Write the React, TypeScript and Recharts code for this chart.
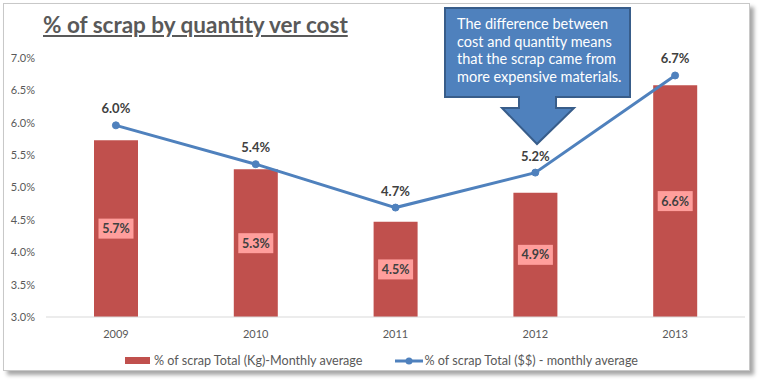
import { ComposedChart, Bar, Line, XAxis, YAxis, LabelList } from 'recharts';

const YEARS = ['2009', '2010', '2011', '2012', '2013'];
const KG_PCT = [5.73, 5.28, 4.47, 4.92, 6.58];
const COST_PCT = [5.96, 5.36, 4.69, 5.23, 6.73];
const Y_TICKS = [3, 3.5, 4, 4.5, 5, 5.5, 6, 6.5, 7];

const BAR_NAME = '% of scrap Total (Kg)-Monthly average';
const LINE_NAME = '% of scrap Total ($$) - monthly average';
const CALLOUT = [
  'The difference between',
  'cost and quantity means',
  'that the scrap came from',
  'more expensive materials.',
];

const FONT = 'Lato, "Open Sans", sans-serif';
const RED = '#C0504D';
const BLUE = '#4F81BD';
const TEXT = '#595959';

const chartData = YEARS.map((year, i) => ({ year, kg: KG_PCT[i], cost: COST_PCT[i] }));

const fmt = (v: number) => `${v.toFixed(1)}%`;

function BarTag(props: any) {
  const vb = props.viewBox || props;
  const x = vb.x ?? props.x;
  const y = vb.y ?? props.y;
  const w = vb.width ?? props.width;
  const h = vb.height ?? props.height;
  const cx = x + w / 2;
  const cy = y + h / 2;
  return (
    <g>
      <rect x={cx - 17.5} y={cy - 10} width={35} height={20} fill="#FF9E9C" />
      <text x={cx} y={cy + 4.5} textAnchor="middle" fontFamily={FONT} fontSize={12.5} fontWeight={700} fill="#404040">
        {fmt(props.value)}
      </text>
    </g>
  );
}

function LineTag(props: any) {
  const vb = props.viewBox || {};
  const x = props.x ?? vb.x;
  const y = props.y ?? vb.y;
  return (
    <text x={x} y={y - 12} textAnchor="middle" fontFamily={FONT} fontSize={13} fontWeight={700} fill="#404040">
      {fmt(props.value)}
    </text>
  );
}

function LegendBox() {
  return (
    <div style={{ display: 'flex', alignItems: 'center', fontFamily: FONT, fontSize: 12.6, color: TEXT }}>
      <div style={{ display: 'flex', alignItems: 'center', marginRight: 33 }}>
        <span style={{ display: 'inline-block', width: 25, height: 7, background: RED, marginRight: 4 }} />
        {BAR_NAME}
      </div>
      <div style={{ display: 'flex', alignItems: 'center' }}>
        <svg width={28} height={10} style={{ marginRight: 1 }}>
          <line x1={0} y1={5} x2={28} y2={5} stroke={BLUE} strokeWidth={3} />
          <circle cx={14} cy={5} r={3.5} fill={BLUE} />
        </svg>
        {LINE_NAME}
      </div>
    </div>
  );
}

export default function App() {
  return (
    <div style={{ position: 'absolute', left: 0, top: 0, width: 761, height: 383, background: '#fff', overflow: 'hidden' }}>
      <div
        style={{
          position: 'absolute',
          left: 3,
          top: 3,
          width: 745,
          height: 366,
          border: '1px solid #c8c8c8',
          boxShadow: '4px 4px 4px rgba(0,0,0,0.35)',
          background: '#fff',
        }}
      />
      <div
        style={{
          position: 'absolute',
          left: 43,
          top: 11,
          fontFamily: FONT,
          fontSize: 22.5,
          fontWeight: 700,
          color: TEXT,
          textDecoration: 'underline',
          whiteSpace: 'nowrap',
        }}
      >
        % of scrap by quantity ver cost
      </div>
      <div style={{ position: 'absolute', left: 0, top: 0 }}>
        <ComposedChart width={761} height={383} data={chartData} margin={{ top: 58, right: 16, bottom: 36, left: 0 }}>
          <XAxis
            dataKey="year"
            height={30}
            tick={{ fill: TEXT, fontSize: 11, fontFamily: FONT }}
            axisLine={{ stroke: '#D9D9D9' }}
            tickLine={false}
            tickMargin={7}
          />
          <YAxis
            type="number"
            domain={[3, 7]}
            ticks={Y_TICKS}
            width={46}
            axisLine={false}
            tickLine={false}
            tickMargin={5}
            tickFormatter={fmt}
            tick={{ fill: TEXT, fontSize: 11, fontFamily: FONT }}
          />
          <Bar dataKey="kg" name={BAR_NAME} fill={RED} barSize={44} isAnimationActive={false}>
            <LabelList dataKey="kg" content={<BarTag />} />
          </Bar>
          <Line
            dataKey="cost"
            name={LINE_NAME}
            stroke={BLUE}
            strokeWidth={3}
            dot={{ r: 3.5, fill: BLUE, stroke: BLUE, strokeWidth: 1 }}
            isAnimationActive={false}
          >
            <LabelList dataKey="cost" content={<LineTag />} />
          </Line>
        </ComposedChart>
      </div>
      <div style={{ position: 'absolute', left: 125, top: 353 }}>
        <LegendBox />
      </div>
      <svg width={761} height={383} style={{ position: 'absolute', left: 0, top: 0, pointerEvents: 'none' }}>
        <path
          d="M445,8 L630,8 L630,97 L556,97 L556,108 L574,108 L537,144 L502,108 L519,108 L519,97 L445,97 Z"
          fill={BLUE}
          stroke="#385D8A"
          strokeWidth={2}
          strokeLinejoin="miter"
        />
        {CALLOUT.map((line, i) => (
          <text key={i} x={457} y={29 + i * 17.7} fontFamily={FONT} fontSize={14.5} fill="#fff">
            {line}
          </text>
        ))}
      </svg>
    </div>
  );
}
